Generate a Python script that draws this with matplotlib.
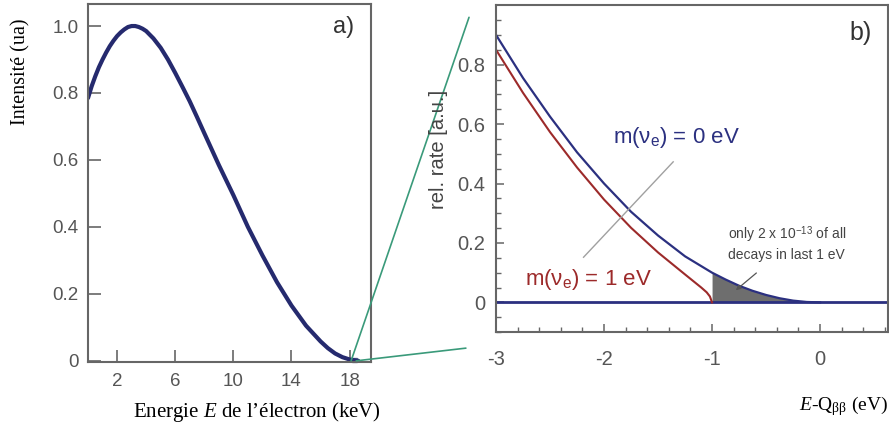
import numpy as np
import matplotlib
matplotlib.use("Agg")
import matplotlib.pyplot as plt
from matplotlib.patches import ConnectionPatch, Rectangle

plt.rcParams['font.family'] = ['Liberation Sans', 'DejaVu Sans']
plt.rcParams['mathtext.fontset'] = 'custom'
plt.rcParams['mathtext.rm'] = 'Liberation Serif'
plt.rcParams['mathtext.it'] = 'Liberation Serif:italic'

# panel a: beta spectrum
energy_kev = [0, 0.25, 0.5, 0.75, 1, 1.25, 1.5, 1.75, 2, 2.25, 2.5, 2.75, 3,
              3.25, 3.5, 3.75, 4, 4.5, 5, 5.5, 6, 6.5, 7, 7.5, 8, 9, 10, 11,
              12, 13, 14, 15, 16, 16.5, 17, 17.5, 18, 18.6]
intensity = [0.785, 0.82, 0.85, 0.877, 0.90, 0.921, 0.94, 0.956, 0.97, 0.981,
             0.99, 0.997, 1.0, 1.0, 0.997, 0.992, 0.985, 0.963, 0.935, 0.9,
             0.86, 0.818, 0.775, 0.728, 0.68, 0.585, 0.495, 0.40, 0.315,
             0.235, 0.165, 0.105, 0.058, 0.038, 0.022, 0.011, 0.004, 0.0]
a_xticks = [2, 6, 10, 14, 18]
a_yticks = [0, 0.2, 0.4, 0.6, 0.8, 1.0]
a_yticklabels = ["0", "0.2", "0.4", "0.6", "0.8", "1.0"]

# panel b: endpoint region
b_x0 = [-3, -2.75, -2.5, -2.25, -2, -1.75, -1.5, -1.25, -1, -0.875, -0.75,
        -0.625, -0.5, -0.375, -0.25, -0.125, 0]
b_rate0 = [0.90, 0.755, 0.625, 0.505, 0.40, 0.305, 0.225, 0.155, 0.10, 0.077,
           0.056, 0.039, 0.025, 0.014, 0.006, 0.0015, 0.0]
b_x1 = [-3, -2.75, -2.5, -2.25, -2, -1.75, -1.5, -1.25, -1.1, -1.05, -1.02, -1]
b_rate1 = [0.85, 0.705, 0.573, 0.454, 0.346, 0.251, 0.168, 0.094, 0.05,
           0.034, 0.02, 0.0]
b_xticks = [-3, -2, -1, 0]
b_xticklabels = ["-3", "-2", "-1", "0"]
b_yticks = [0, 0.2, 0.4, 0.6, 0.8]
b_yticklabels = ["0", "0.2", "0.4", "0.6", "0.8"]

navy = '#252a6e'
blue = '#2b3080'
red = '#9c2a2a'
grey = '#666666'
teal = '#3a9a7a'

fig = plt.figure(figsize=(8.89, 4.37), dpi=100)
ax_a = fig.add_axes([0.099, 0.172, 0.318, 0.819])
ax_b = fig.add_axes([0.558, 0.240, 0.441, 0.748])

for ax in (ax_a, ax_b):
    for sp in ax.spines.values():
        sp.set_color(grey)
        sp.set_linewidth(1.5)

# ---- panel a ----
ax_a.plot(energy_kev, intensity, color=navy, lw=3, solid_capstyle='round',
          solid_joinstyle='round')
ax_a.set_xlim(0, 19.45)
ax_a.set_ylim(-0.003, 1.066)
ax_a.set_xticks(a_xticks)
ax_a.set_yticks(a_yticks)
ax_a.set_yticklabels(a_yticklabels)
ax_a.tick_params(direction='in', length=9, width=1.2, color=grey,
                 labelcolor='#555555', labelsize=13.5)
ax_a.tick_params(axis='x', pad=8)
ax_a.tick_params(axis='y', pad=7)
ax_a.add_patch(Rectangle((18.15, -0.003), 0.35, 0.012, fill=False,
                         edgecolor='#6a7a9a', lw=1, clip_on=False))
ax_a.text(0.943, 0.936, "a)", transform=ax_a.transAxes, ha='right',
          va='center', fontsize=17, color='#333333')

# ---- panel b ----
ax_b.axhline(0, color=blue, lw=2)
ax_b.plot(b_x0, b_rate0, color=blue, lw=1.6)
ax_b.plot(b_x1, b_rate1, color=red, lw=1.5)
xs = np.array(b_x0)
ax_b.fill_between(xs, 0, b_rate0, where=xs >= -1, color='#6e6e6e', lw=0)
ax_b.set_xlim(-3, 0.63)
ax_b.set_ylim(-0.1, 1.0)
ax_b.set_xticks(b_xticks)
ax_b.set_xticklabels(b_xticklabels)
ax_b.set_yticks(b_yticks)
ax_b.set_yticklabels(b_yticklabels)
ax_b.set_xticks(np.arange(-3, 0.63, 0.2), minor=True)
ax_b.set_yticks(np.arange(-0.1, 1.0, 0.05), minor=True)
ax_b.tick_params(which='major', direction='in', length=6, width=1.1,
                 color=grey, labelcolor='#555555', labelsize=14.5)
ax_b.tick_params(which='minor', direction='in', length=3.5, width=1,
                 color=grey)
ax_b.tick_params(axis='x', pad=13)
ax_b.tick_params(axis='y', pad=8)

ax_b.text(-1.92, 0.555, r"m(ν$_\mathregular{e}$) = 0 eV", color=blue,
          fontsize=16, va='center', ha='left')
ax_b.text(-2.73, 0.077, r"m(ν$_\mathregular{e}$) = 1 eV", color=red,
          fontsize=16, va='center', ha='left')
ax_b.plot([-2.19, -1.36], [0.152, 0.473], color='#a0a0a0', lw=1)
ax_b.text(-0.85, 0.20, "only 2 x 10$^\\mathregular{-13}$ of all\ndecays in last 1 eV",
          fontsize=10, color='#444444', ha='left', va='center',
          linespacing=1.3)
ax_b.annotate("", xy=(-0.80, 0.035), xytext=(-0.57, 0.105),
              arrowprops=dict(arrowstyle='-|>', color='#555555', lw=0.9,
                              mutation_scale=7))
ax_b.text(0.959, 0.914, "b)", transform=ax_b.transAxes, ha='right',
          va='center', fontsize=18, color='#333333')

# zoom connectors
for pa, pb in [((18.1, 0.0), (-0.069, 0.963)), ((18.45, 0.0), (-0.077, -0.049))]:
    con = ConnectionPatch(xyA=pa, coordsA='data', axesA=ax_a,
                          xyB=pb, coordsB='axes fraction', axesB=ax_b,
                          color=teal, lw=1.2)
    fig.add_artist(con)

# axis labels
serif = ['Liberation Serif', 'DejaVu Serif']
fig.text(21 / 889, 1 - 72 / 437, "Intensité (ua)", rotation=90,
         ha='center', va='center', fontsize=14.5, family=serif)
fig.text(257 / 889, 1 - 412 / 437, "Energie $\\mathit{E}$ de l’électron (keV)",
         ha='center', va='center', fontsize=15, family=serif)
fig.text(438 / 889, 1 - 149 / 437, "rel. rate [a.u.]", rotation=90,
         ha='center', va='center', fontsize=14.5, color='#444444')
fig.text(0.999, 1 - 406 / 437, "$\\mathit{E}$-Q$_\\mathregular{ββ}$ (eV)",
         ha='right', va='center', fontsize=14, family=serif)

fig.savefig("out.png", dpi=100)
